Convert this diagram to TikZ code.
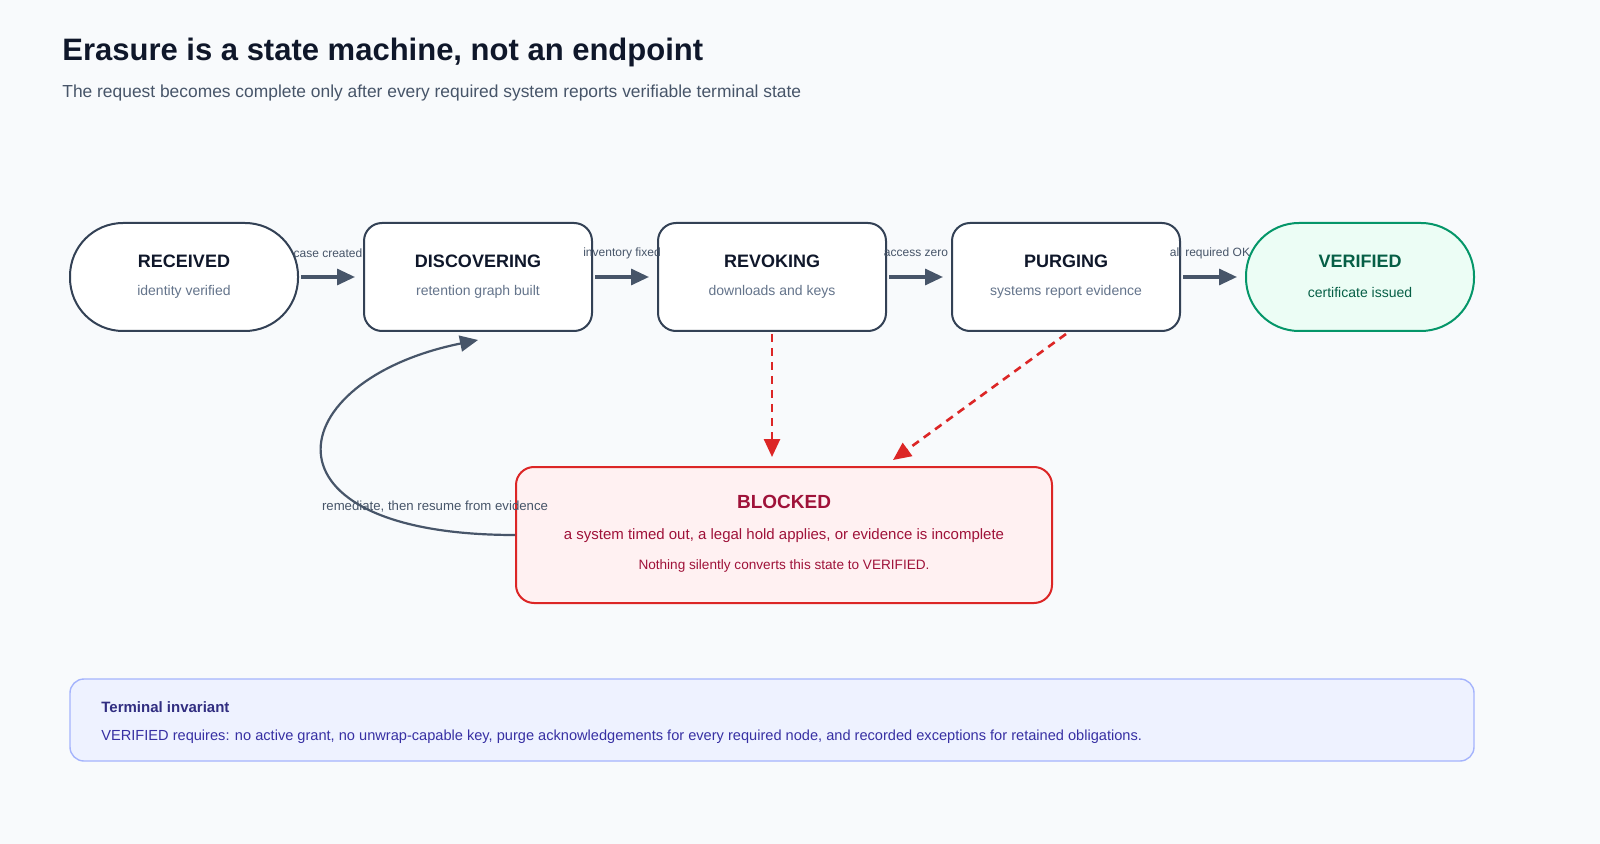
\documentclass[tikz,border=0pt]{standalone}
\usepackage{fontspec}
\setmainfont{Liberation Sans}
\usetikzlibrary{arrows.meta}
\definecolor{bg}{HTML}{F8FAFC}
\definecolor{ink}{HTML}{0F172A}
\definecolor{sub}{HTML}{475569}
\definecolor{edge}{HTML}{334155}
\definecolor{arr}{HTML}{475569}
\definecolor{muted}{HTML}{64748B}
\definecolor{gfill}{HTML}{ECFDF5}
\definecolor{gline}{HTML}{059669}
\definecolor{gtext}{HTML}{065F46}
\definecolor{rfill}{HTML}{FFF1F2}
\definecolor{rline}{HTML}{DC2626}
\definecolor{rtext}{HTML}{9F1239}
\definecolor{bfill}{HTML}{EEF2FF}
\definecolor{bline}{HTML}{A5B4FC}
\definecolor{btitle}{HTML}{312E81}
\definecolor{btext}{HTML}{3730A3}
\tikzset{
  state/.style={draw=edge,line width=1pt,fill=white,rounded corners=9pt,minimum width=114pt,minimum height=54pt,inner sep=0pt},
  pill/.style={state,rounded corners=26.5pt},
  flow/.style={-{Triangle[length=9pt,width=8pt]},draw=arr,line width=1.6pt},
  bad/.style={-{Triangle[length=9pt,width=8pt]},draw=rline,line width=1.3pt,dash pattern=on 4pt off 3pt},
  elab/.style={font=\fontsize{6}{7}\selectfont,text=sub},
  ttl/.style={font=\bfseries\fontsize{9}{11}\selectfont,text=ink},
  st/.style={font=\fontsize{7}{8}\selectfont,text=muted}
}
\begin{document}
\begin{tikzpicture}[x=0.5pt,y=-0.5pt]
\fill[bg] (0,0) rectangle (1600,844);
\useasboundingbox (0,0) rectangle (1600,844);
\node[anchor=west,inner sep=0pt,font=\bfseries\fontsize{15.5}{18}\selectfont,text=ink] (title) at (62,52) {Erasure is a state machine, not an endpoint};
\node[anchor=west,inner sep=0pt,font=\fontsize{8.7}{10}\selectfont,text=sub] (subt) at (62,93) {The request becomes complete only after every required system reports verifiable terminal state};

\node[pill] (rec) at (184,277) {};
\node[state] (dis) at (478,277) {};
\node[state] (rev) at (772,277) {};
\node[state] (pur) at (1066,277) {};
\node[pill,draw=gline,fill=gfill] (ver) at (1360,277) {};
\foreach \n/\x/\t/\s in {rec/184/RECEIVED/identity verified,dis/478/DISCOVERING/retention graph built,rev/772/REVOKING/downloads and keys,pur/1066/PURGING/systems report evidence}{
  \node[ttl] (\n t) at (\x,261) {\t};
  \node[st] (\n s) at (\x,292) {\s};
}
\node[ttl,text=gtext] (vert) at (1360,261) {VERIFIED};
\node[st,text=gtext] (vers) at (1360,292) {certificate issued};

\draw[flow] ([xshift=1pt]rec.east) -- ([xshift=-4pt]dis.west);
\draw[flow] ([xshift=1pt]dis.east) -- ([xshift=-4pt]rev.west);
\draw[flow] ([xshift=1pt]rev.east) -- ([xshift=-4pt]pur.west);
\draw[flow] ([xshift=1pt]pur.east) -- ([xshift=-4pt]ver.west);
\node[elab] (l1) at (328,253) {case created};
\node[elab] (l2) at (622,253) {inventory fixed};
\node[elab] (l3) at (916,253) {access zero};
\node[elab] (l4) at (1210,253) {all required OK};

\node[draw=rline,fill=rfill,line width=1pt,rounded corners=9pt,minimum width=268pt,minimum height=68pt] (blk) at (784,535) {};
\node[font=\bfseries\fontsize{9.5}{11}\selectfont,text=rtext] (blkt) at (784,502) {BLOCKED};
\node[font=\fontsize{7.5}{9}\selectfont,text=rtext] (blk1) at (784,536) {a system timed out, a legal hold applies, or evidence is incomplete};
\node[font=\fontsize{6.8}{8}\selectfont,text=rtext] (blk2) at (784,566) {Nothing silently converts this state to VERIFIED.};

\coordinate (r1) at (772,457);
\coordinate (r2) at (893,460);
\draw[bad] ([yshift=-1pt]rev.south) -- (r1);
\draw[bad] ([yshift=-1pt]pur.south) -- (r2);

\coordinate (lp) at (478,340);
\draw[flow,line width=1.1pt] (blk.west) .. controls (250,535) and (280,380) .. (lp);
\node[elab,font=\fontsize{6.6}{8}\selectfont] (ll) at (435,507) {remediate, then resume from evidence};

\node[draw=bline,fill=bfill,line width=0.7pt,rounded corners=7pt,minimum width=702pt,minimum height=41pt] (inv) at (772,720) {};
\node[anchor=west,inner sep=0pt,font=\bfseries\fontsize{7.5}{9}\selectfont,text=btitle] (invt) at (101,707) {Terminal invariant};
\node[anchor=west,inner sep=0pt,font=\fontsize{7.3}{9}\selectfont,text=btext] (invs) at (101,737) {VERIFIED requires: no active grant, no unwrap-capable key, purge acknowledgements for every required node, and recorded exceptions for retained obligations.};
\end{tikzpicture}
\end{document}
